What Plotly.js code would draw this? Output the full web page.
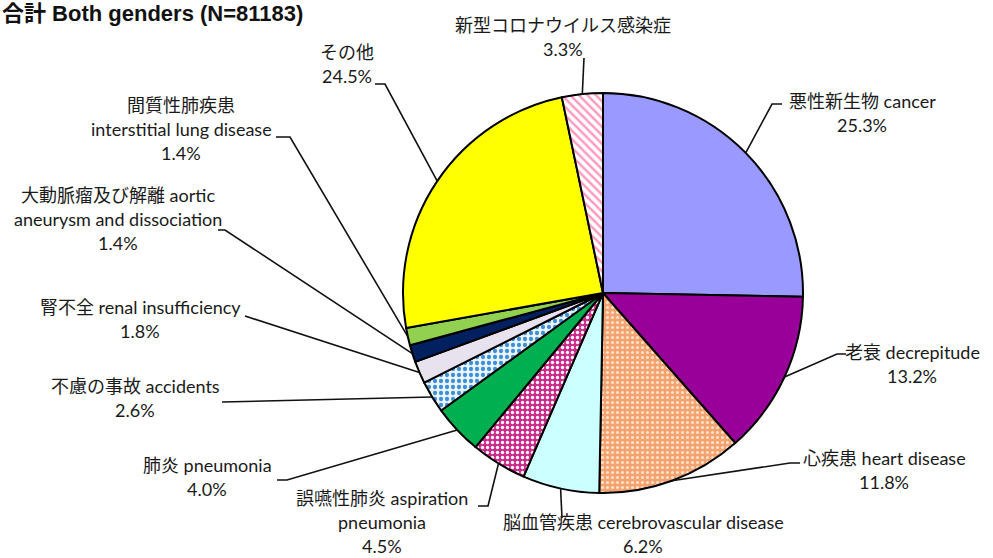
<!DOCTYPE html>
<html>
<head>
<meta charset="utf-8">
<script src="https://cdn.plot.ly/plotly-3.0.1.min.js"></script>
<style>html,body{margin:0;padding:0;background:#fff;}#chart{width:993px;height:558px;}</style>
</head>
<body>
<div id="chart"></div>
<script>
// ---- data ----
var categoriesJa = ["悪性新生物","老衰","心疾患","脳血管疾患","誤嚥性肺炎","肺炎","不慮の事故","腎不全","大動脈瘤及び解離","間質性肺疾患","その他","新型コロナウイルス感染症"];
var categoriesEn = ["cancer","decrepitude","heart disease","cerebrovascular disease","aspiration pneumonia","pneumonia","accidents","renal insufficiency","aortic aneurysm and dissociation","interstitial lung disease","",""];
var shares = [25.3, 13.2, 11.8, 6.2, 4.5, 4.0, 2.6, 1.8, 1.4, 1.4, 24.5, 3.3];
var titleText = "合計 Both genders (N=81183)";

// ---- styles ----
var sliceColors = ["#9999FF","#990099","#F4A270","#CCFFFF","#CC2A8A","#00B050","#FFFFFF","#E8E2EE","#002060","#92D050","#FFFF00","#FFFFFF"];
var patShapes  = ["","","." ,"",".","",".","","","","","\\"];
var patFg      = ["","","#FFE2C8","","#FFFFFF","","#3E8FD6","","","","","#FF99BB"];
var patBg      = ["#9999FF","#990099","#F4A270","#CCFFFF","#CC2A8A","#00B050","#EAF5FF","#E8E2EE","#002060","#92D050","#FFFF00","#FFFFFF"];
var patSize    = [8,8,5,8,5,8,6,8,8,8,8,6];
var patSolid   = [0.3,0.3,0.3,0.3,0.35,0.3,0.4,0.3,0.3,0.3,0.3,0.4];

// ---- layout geometry (pixels) ----
var W = 993, H = 558;
var CX = 603, CY = 293, R = 200;
var labelLines = [
  ["悪性新生物 cancer","25.3%"],
  ["老衰 decrepitude","13.2%"],
  ["心疾患 heart disease","11.8%"],
  ["脳血管疾患 cerebrovascular disease","6.2%"],
  ["誤嚥性肺炎 aspiration","pneumonia","4.5%"],
  ["肺炎 pneumonia","4.0%"],
  ["不慮の事故 accidents","2.6%"],
  ["腎不全 renal insufficiency","1.8%"],
  ["大動脈瘤及び解離 aortic","aneurysm and dissociation","1.4%"],
  ["間質性肺疾患","interstitial lung disease","1.4%"],
  ["その他","24.5%"],
  ["新型コロナウイルス感染症","3.3%"]
];
var labelPos = [[862,101],[912,352],[884,458],[643,522],[382,498],[207,465],[135,386],[140,307],[118,195],[181,105],[347,52],[563,25]];
var leaderPts = [
  [[772,104],[782,104]],
  [[837,354],[846,354]],
  [[790,463],[800,463]],
  [[562,518]],
  [[488,506],[478,506]],
  [[287,480],[277,480]],
  [[222,402]],
  [[245,316]],
  [[225,230],[218,230]],
  [[290,137],[276,137]],
  [[385,84],[375,84]],
  [[584,58]]
];
var lineGap = 24;

function px(x){return x/W;}
function py(y){return 1-y/H;}

var trace = {
  type: "pie",
  values: shares,
  labels: categoriesJa.map(function(c,i){return c+" "+categoriesEn[i];}),
  sort: false,
  direction: "clockwise",
  rotation: 0,
  textinfo: "none",
  hoverinfo: "label+value",
  showlegend: false,
  domain: {x:[px(CX-R), px(CX+R)], y:[py(CY+R), py(CY-R)]},
  marker: {
    colors: sliceColors,
    line: {color: "#000000", width: 2},
    pattern: {shape: patShapes, fgcolor: patFg, bgcolor: patBg, size: patSize, solidity: patSolid, fillmode: "replace"}
  }
};

var fontFam = "Lato, 'Noto Sans CJK JP', sans-serif";
var annotations = [];
var shapes = [];
var total = shares.reduce(function(a,b){return a+b;},0);
var cum = 0;
for (var i=0;i<shares.length;i++){
  var mid = (cum + shares[i]/2)/total*2*Math.PI;
  cum += shares[i];
  var ex = CX + R*Math.sin(mid), ey = CY - R*Math.cos(mid);
  var pts = [[ex,ey]].concat(leaderPts[i]);
  var d = "M "+pts.map(function(p){return px(p[0])+","+py(p[1]);}).join(" L ");
  shapes.push({type:"path", xref:"paper", yref:"paper", path:d, line:{color:"#111", width:1.6}});
  for (var k=0;k<labelLines[i].length;k++){
    annotations.push({
      xref:"paper", yref:"paper", x:px(labelPos[i][0]), y:py(labelPos[i][1]+k*lineGap),
      xanchor:"center", yanchor:"middle", showarrow:false,
      text: labelLines[i][k],
      font:{family:fontFam, size:18, color:"#1a1a1a"}
    });
  }
}
annotations.push({
  xref:"paper", yref:"paper", x:px(0), y:py(13), xanchor:"left", yanchor:"middle",
  showarrow:false, text:"<b>"+titleText+"</b>",
  font:{family:"'Liberation Sans', 'Noto Sans CJK JP', sans-serif", size:22, color:"#111"}
});

var layout = {
  width: W, height: H,
  margin: {l:0,r:0,t:0,b:0},
  paper_bgcolor: "#ffffff",
  plot_bgcolor: "#ffffff",
  annotations: annotations,
  shapes: shapes
};
Plotly.newPlot("chart", [trace], layout, {displayModeBar:false, staticPlot:true});
</script>
</body>
</html>
